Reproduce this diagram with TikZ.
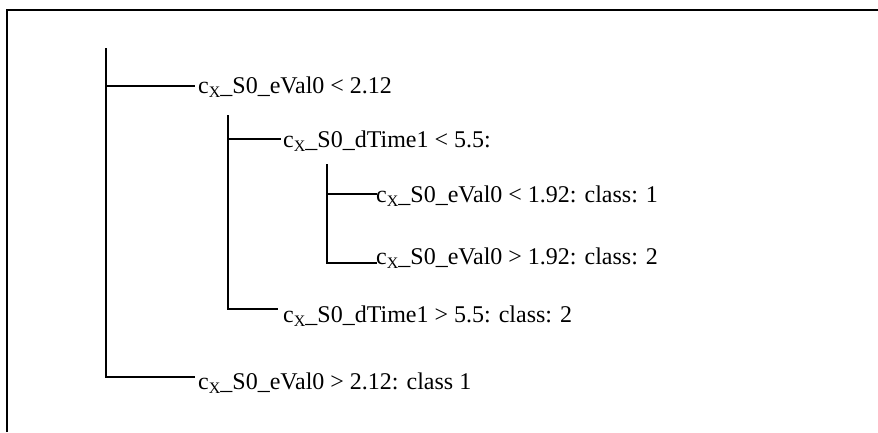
\documentclass[tikz,border=0pt]{standalone}
\usepackage{fontspec}
\setmainfont{Liberation Serif}
% "c" with a lowered small X
\newcommand{\cxsub}{c\raisebox{-0.2em}{\fontsize{16pt}{16pt}\selectfont X}}
\begin{document}
\begin{tikzpicture}[x=1pt,y=-1pt,
  frame/.style={line width=2pt},
  branch/.style={line width=1.4pt},
  leaf/.style={anchor=base west, inner sep=0pt, font=\fontsize{24pt}{28pt}\selectfont}]
\useasboundingbox (0,0) rectangle (878,432);
% outer frame (top and left edges)
\draw[frame] (7,432) -- (7,9.5) -- (878,9.5);

% labels
\node[leaf] (a) at (198,93)  {\cxsub\_S0\_eVal0 < 2.12};
\node[leaf] (b) at (283,147) {\cxsub\_S0\_dTime1 < 5.5:};
\node[leaf] (c) at (376,202) {\cxsub\_S0\_eVal0 < 1.92: class: 1};
\node[leaf] (d) at (376,264) {\cxsub\_S0\_eVal0 > 1.92: class: 2};
\node[leaf] (e) at (283,322) {\cxsub\_S0\_dTime1 > 5.5: class: 2};
\node[leaf] (f) at (198,389) {\cxsub\_S0\_eVal0 > 2.12: class 1};

% attachment points of the branches
\coordinate (a-in) at ([xshift=-3pt,yshift=7pt]a.base west);
\coordinate (b-in) at ([xshift=-2pt,yshift=8pt]b.base west);
\coordinate (c-in) at ([xshift=1pt,yshift=8pt]c.base west);
\coordinate (d-in) at ([xshift=1pt,yshift=1pt]d.base west);
\coordinate (e-in) at ([xshift=-5pt,yshift=13pt]e.base west);
\coordinate (f-in) at ([xshift=-3pt,yshift=12pt]f.base west);

% stems
\coordinate (r)  at (106,48);
\coordinate (r2) at (228,115);
\coordinate (r3) at (327,164);

\draw[branch] (r) |- (f-in);
\draw[branch] (r |- a-in) -- (a-in);
\draw[branch] (r2) |- (e-in);
\draw[branch] (r2 |- b-in) -- (b-in);
\draw[branch] (r3) |- (d-in);
\draw[branch] (r3 |- c-in) -- (c-in);
\end{tikzpicture}
\end{document}
